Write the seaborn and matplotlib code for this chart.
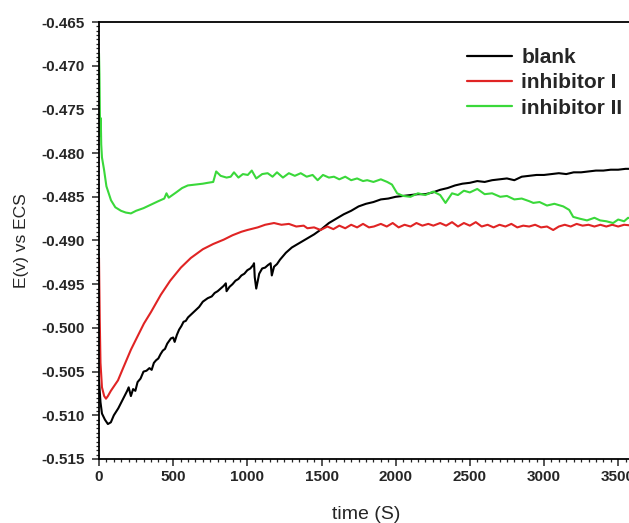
import matplotlib
matplotlib.use("Agg")
import matplotlib.pyplot as plt
import seaborn as sns
import pandas as pd
from matplotlib.ticker import MultipleLocator, FormatStrFormatter

# ---- data ----
blank_t = [0, 10, 20, 40, 60, 80, 100, 130, 160, 190, 200, 215, 230, 245, 260, 280, 300, 320,
           340, 355, 370, 385, 400, 415, 430, 445, 460, 485, 500, 510, 525, 540, 555, 570, 585,
           600, 625, 650, 675, 700, 733, 760, 780, 800, 820, 840, 855, 860, 880, 900, 920, 940,
           960, 980, 1000, 1020, 1040, 1045, 1050, 1060, 1080, 1100, 1120, 1140, 1157, 1165,
           1180, 1200, 1220, 1240, 1260, 1280, 1300, 1350, 1400, 1450, 1500, 1550, 1600, 1650,
           1700, 1750, 1800, 1850, 1900, 1950, 2000, 2050, 2100, 2150, 2200, 2250, 2300, 2350,
           2400, 2450, 2500, 2550, 2600, 2650, 2700, 2750, 2800, 2850, 2900, 2950, 3000, 3050,
           3100, 3150, 3200, 3250, 3300, 3350, 3400, 3450, 3500, 3550, 3600]
blank_e = [-0.5060, -0.5085, -0.5098, -0.5105, -0.5110, -0.5108, -0.5100, -0.5092, -0.5082,
           -0.5072, -0.5068, -0.5078, -0.5070, -0.5072, -0.5062, -0.5058, -0.5050, -0.5049,
           -0.5046, -0.5048, -0.5040, -0.5037, -0.5035, -0.5030, -0.5026, -0.5024, -0.5018,
           -0.5012, -0.5011, -0.5016, -0.5008, -0.5002, -0.4998, -0.4993, -0.4992, -0.4988,
           -0.4984, -0.4980, -0.4976, -0.4970, -0.4966, -0.4964, -0.4960, -0.4958, -0.4955,
           -0.4952, -0.4949, -0.4958, -0.4953, -0.4950, -0.4946, -0.4944, -0.4940, -0.4938,
           -0.4934, -0.4932, -0.4928, -0.4926, -0.4942, -0.4955, -0.4938, -0.4932, -0.4931,
           -0.4928, -0.4926, -0.4940, -0.4930, -0.4927, -0.4922, -0.4918, -0.4914, -0.4911,
           -0.4908, -0.4903, -0.4898, -0.4893, -0.4887, -0.4880, -0.4875, -0.4870, -0.4866,
           -0.4861, -0.4858, -0.4856, -0.4853, -0.4852, -0.4850, -0.4849, -0.4848, -0.4847,
           -0.4847, -0.4845, -0.4842, -0.4840, -0.4837, -0.4835, -0.4834, -0.4832, -0.4833,
           -0.4831, -0.4830, -0.4829, -0.4831, -0.4827, -0.4826, -0.4825, -0.4825, -0.4824,
           -0.4823, -0.4824, -0.4822, -0.4822, -0.4821, -0.4820, -0.4820, -0.4819, -0.4819,
           -0.4818, -0.4818]

inh1_t = [0, 5, 10, 20, 35, 47, 60, 80, 100, 128, 160, 190, 215, 250, 303, 350, 417, 480, 552,
          619, 700, 770, 841, 900, 960, 1000, 1070, 1120, 1180, 1230, 1280, 1330, 1380, 1405,
          1450, 1494, 1540, 1580, 1620, 1660, 1700, 1740, 1780, 1820, 1853, 1900, 1940, 1980,
          2020, 2060, 2100, 2140, 2180, 2220, 2254, 2300, 2340, 2380, 2420, 2460, 2500, 2540,
          2580, 2620, 2660, 2700, 2740, 2780, 2820, 2860, 2900, 2940, 2980, 3020, 3062, 3100,
          3140, 3180, 3220, 3260, 3300, 3340, 3380, 3420, 3460, 3500, 3540, 3600]
inh1_e = [-0.4920, -0.4990, -0.5040, -0.5068, -0.5078, -0.5081, -0.5078, -0.5072, -0.5067,
          -0.5060, -0.5047, -0.5035, -0.5025, -0.5013, -0.4995, -0.4982, -0.4962, -0.4946,
          -0.4931, -0.4920, -0.4910, -0.4904, -0.4899, -0.4894, -0.4890, -0.4888, -0.4885,
          -0.4882, -0.4880, -0.4882, -0.4881, -0.4884, -0.4883, -0.4886, -0.4885, -0.4888,
          -0.4884, -0.4887, -0.4883, -0.4886, -0.4882, -0.4885, -0.4881, -0.4885, -0.4884,
          -0.4881, -0.4884, -0.4880, -0.4885, -0.4882, -0.4884, -0.4880, -0.4883, -0.4881,
          -0.4883, -0.4880, -0.4883, -0.4879, -0.4884, -0.4880, -0.4883, -0.4879, -0.4884,
          -0.4882, -0.4885, -0.4882, -0.4884, -0.4881, -0.4885, -0.4883, -0.4884, -0.4882,
          -0.4885, -0.4884, -0.4888, -0.4884, -0.4882, -0.4884, -0.4881, -0.4883, -0.4882,
          -0.4884, -0.4882, -0.4884, -0.4882, -0.4884, -0.4882, -0.4883]

inh2_t = [0, 3, 6, 9, 12, 15, 20, 34, 50, 81, 110, 148, 180, 215, 250, 300, 350, 400, 440, 455,
          470, 520, 560, 599, 650, 700, 733, 770, 790, 820, 860, 888, 910, 940, 970, 1003, 1030,
          1060, 1100, 1137, 1170, 1200, 1240, 1280, 1320, 1360, 1400, 1440, 1474, 1510, 1550,
          1584, 1620, 1660, 1700, 1740, 1780, 1808, 1850, 1900, 1943, 1975, 2010, 2050, 2100,
          2150, 2200, 2254, 2300, 2336, 2380, 2420, 2460, 2500, 2550, 2600, 2650, 2705, 2750,
          2800, 2850, 2900, 2928, 2970, 3020, 3070, 3130, 3170, 3197, 3240, 3290, 3340, 3378,
          3420, 3466, 3500, 3540, 3567, 3600]
inh2_e = [-0.4686, -0.4710, -0.4755, -0.4780, -0.4760, -0.4790, -0.4805, -0.4819, -0.4838,
          -0.4854, -0.4862, -0.4866, -0.4868, -0.4869, -0.4866, -0.4863, -0.4859, -0.4855,
          -0.4852, -0.4846, -0.4851, -0.4845, -0.4840, -0.4837, -0.4836, -0.4835, -0.4834,
          -0.4833, -0.4821, -0.4826, -0.4828, -0.4827, -0.4822, -0.4828, -0.4824, -0.4825,
          -0.4820, -0.4829, -0.4824, -0.4823, -0.4827, -0.4822, -0.4828, -0.4823, -0.4826,
          -0.4823, -0.4827, -0.4825, -0.4831, -0.4825, -0.4828, -0.4827, -0.4830, -0.4827,
          -0.4831, -0.4829, -0.4832, -0.4831, -0.4833, -0.4830, -0.4833, -0.4836, -0.4846,
          -0.4849, -0.4850, -0.4846, -0.4848, -0.4844, -0.4848, -0.4857, -0.4846, -0.4848,
          -0.4843, -0.4845, -0.4841, -0.4847, -0.4846, -0.4850, -0.4849, -0.4853, -0.4852,
          -0.4855, -0.4857, -0.4856, -0.4860, -0.4858, -0.4861, -0.4865, -0.4873, -0.4875,
          -0.4877, -0.4874, -0.4877, -0.4878, -0.4880, -0.4876, -0.4878, -0.4874, -0.4876]

series_names = ["blank", "inhibitor I", "inhibitor II"]
series_colors = ["#000000", "#e02424", "#3ad83a"]

x_ticks = [0, 500, 1000, 1500, 2000, 2500, 3000, 3500]
y_ticks = [-0.515, -0.510, -0.505, -0.500, -0.495, -0.490, -0.485, -0.480, -0.475, -0.470, -0.465]

frames = []
for name, t, e in zip(series_names, [blank_t, inh1_t, inh2_t], [blank_e, inh1_e, inh2_e]):
    frames.append(pd.DataFrame({"time": t, "E": e, "series": name}))
df = pd.concat(frames, ignore_index=True)

sns.set_style("white")
plt.rcParams["font.family"] = ["Liberation Sans", "DejaVu Sans"]

W, H = 629, 523
fig = plt.figure(figsize=(W / 100, H / 100), dpi=100)
ax_left, ax_right, ax_top, ax_bottom = 99, 633, 22, 459
ax = fig.add_axes([ax_left / W, 1 - ax_bottom / H, (ax_right - ax_left) / W, (ax_bottom - ax_top) / H])

sns.lineplot(data=df, x="time", y="E", hue="series", hue_order=series_names,
             palette=series_colors, estimator=None, sort=False, linewidth=1.5, ax=ax)

ax.set_xlim(0, 3600)
ax.set_ylim(-0.515, -0.465)
ax.set_xticks(x_ticks)
ax.set_yticks(y_ticks)
ax.xaxis.set_minor_locator(MultipleLocator(50))
ax.yaxis.set_minor_locator(MultipleLocator(0.0005))
ax.yaxis.set_major_formatter(FormatStrFormatter("%.3f"))

ax.tick_params(axis="both", which="major", direction="out", length=5, width=1.1,
               labelsize=11, bottom=True, left=True, top=False, right=False)
ax.tick_params(axis="y", which="major", pad=5)
ax.tick_params(axis="x", which="major", pad=3)
ax.tick_params(axis="both", which="minor", direction="out", length=2.5, width=0.9,
               bottom=True, left=True, top=False, right=False)
for lbl in ax.get_xticklabels() + ax.get_yticklabels():
    lbl.set_fontweight("bold")

for side in ["left", "bottom", "top"]:
    ax.spines[side].set_visible(True)
    ax.spines[side].set_linewidth(1.3)
    ax.spines[side].set_color("black")
ax.spines["right"].set_visible(False)

ax.set_xlabel("time (S)", fontsize=14, labelpad=16)
ax.set_ylabel("E(v) vs ECS", fontsize=12.5, labelpad=9)

handles, labels = ax.get_legend_handles_labels()
leg = ax.legend(handles, labels, loc="upper left", bbox_to_anchor=(467 / W, 1 - 48 / H),
                bbox_transform=fig.transFigure, frameon=False,
                handlelength=2.15, handletextpad=0.45, labelspacing=0.3,
                borderpad=0, borderaxespad=0, prop={"weight": "bold", "size": 15})
for line in leg.get_lines():
    line.set_linewidth(1.6)

fig.savefig("out.png", dpi=100)
